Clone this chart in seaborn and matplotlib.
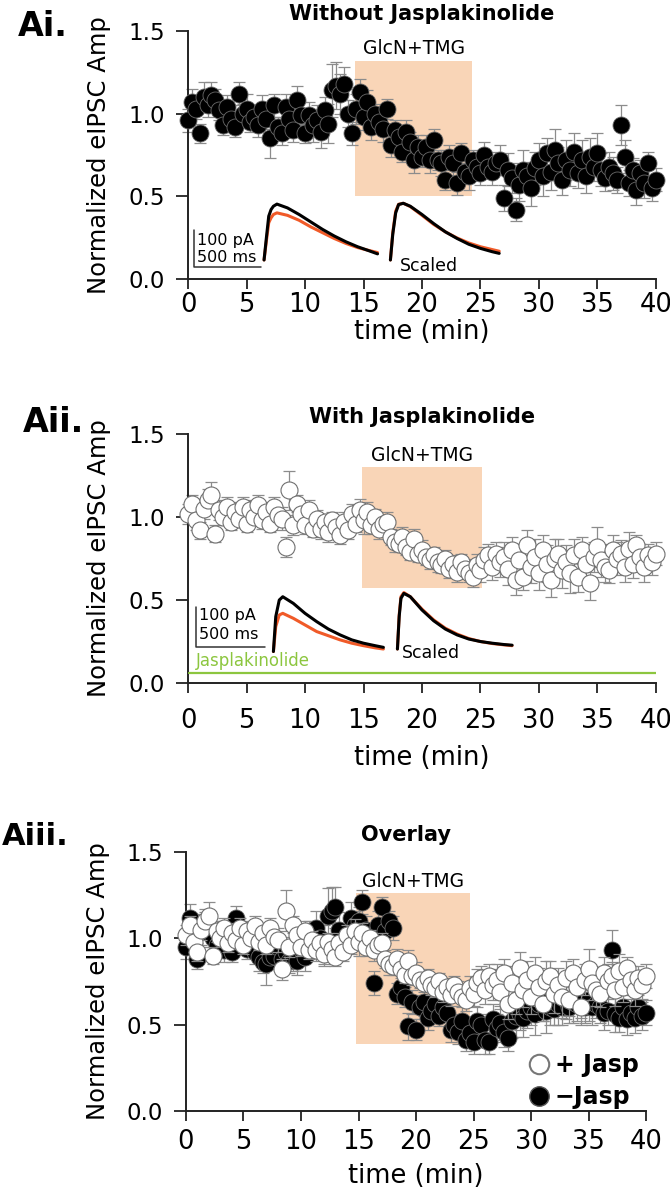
import numpy as np
import seaborn as sns
import matplotlib.pyplot as plt
from matplotlib.lines import Line2D

# sampling every 20 s, 0..40 min
time_min = np.arange(121) / 3

# panel Ai: without jasplakinolide (black)
amp_no_jasp = [
    0.96, 1.07, 1.03, 0.88, 1.10, 1.05, 1.11, 1.08, 1.02, 0.93, 1.04, 0.97,
    0.92, 1.12, 1.00, 1.03, 0.95, 0.98, 0.93, 1.03, 0.97, 0.85, 1.05, 0.92,
    0.88, 1.04, 0.97, 0.90, 1.08, 0.99, 0.88, 0.99, 0.93, 0.96, 0.89, 1.02,
    0.94, 1.14, 1.17, 1.12, 1.18, 1.00, 0.88, 1.03, 1.13, 0.98, 1.07, 0.92,
    1.00, 0.95, 0.91, 1.03, 0.81, 0.90, 0.86, 0.77, 0.89, 0.83, 0.72, 0.80,
    0.74, 0.80, 0.72, 0.84, 0.72, 0.70, 0.60, 0.74, 0.70, 0.58, 0.76, 0.65,
    0.62, 0.72, 0.68, 0.64, 0.75, 0.68, 0.65, 0.70, 0.72, 0.49, 0.66, 0.61,
    0.42, 0.57, 0.66, 0.62, 0.55, 0.67, 0.72, 0.62, 0.76, 0.65, 0.78, 0.70,
    0.60, 0.72, 0.66, 0.77, 0.64, 0.72, 0.62, 0.74, 0.68, 0.76, 0.66, 0.61,
    0.68, 0.64, 0.60, 0.93, 0.74, 0.58, 0.66, 0.54, 0.64, 0.58, 0.70, 0.55,
    0.60]
sem_no_jasp = [
    0.07, 0.08, 0.06, 0.06, 0.09, 0.07, 0.08, 0.07, 0.06, 0.06, 0.07, 0.08,
    0.06, 0.07, 0.06, 0.09, 0.06, 0.07, 0.07, 0.08, 0.06, 0.12, 0.07, 0.06,
    0.07, 0.08, 0.06, 0.07, 0.09, 0.08, 0.06, 0.08, 0.10, 0.09, 0.10, 0.08,
    0.12, 0.16, 0.14, 0.12, 0.10, 0.08, 0.07, 0.09, 0.08, 0.08, 0.07, 0.08,
    0.06, 0.07, 0.08, 0.06, 0.07, 0.06, 0.07, 0.06, 0.07, 0.06, 0.08, 0.07,
    0.06, 0.07, 0.08, 0.07, 0.06, 0.08, 0.06, 0.07, 0.08, 0.07, 0.06, 0.07,
    0.08, 0.06, 0.07, 0.07, 0.08, 0.06, 0.08, 0.07, 0.09, 0.08, 0.10, 0.09,
    0.07, 0.10, 0.12, 0.09, 0.11, 0.10, 0.10, 0.12, 0.09, 0.11, 0.13, 0.10,
    0.09, 0.12, 0.10, 0.11, 0.09, 0.12, 0.10, 0.11, 0.09, 0.12, 0.10, 0.08,
    0.09, 0.10, 0.08, 0.12, 0.10, 0.08, 0.07, 0.09, 0.08, 0.09, 0.07, 0.08,
    0.07]

# panel Aii: with jasplakinolide (white)
amp_jasp = [
    1.02, 1.08, 0.98, 0.92, 1.05, 1.10, 1.13, 0.90, 1.04, 1.00, 1.06, 0.97,
    1.03, 0.99, 1.06, 0.96, 1.04, 1.00, 1.07, 0.98, 1.03, 0.96, 1.06, 1.01,
    0.99, 0.82, 1.16, 0.95, 1.08, 1.02, 0.95, 1.04, 0.93, 0.99, 0.93, 0.97,
    0.91, 0.98, 0.94, 0.89, 0.97, 0.92, 1.02, 0.96, 1.04, 0.98, 1.03, 0.95,
    1.00, 0.93, 0.96, 0.97, 0.88, 0.85, 0.84, 0.88, 0.82, 0.79, 0.87, 0.78,
    0.80, 0.76, 0.74, 0.77, 0.73, 0.71, 0.75, 0.69, 0.72, 0.67, 0.73, 0.69,
    0.66, 0.64, 0.71, 0.68, 0.74, 0.77, 0.70, 0.78, 0.73, 0.76, 0.69, 0.80,
    0.62, 0.74, 0.64, 0.83, 0.70, 0.76, 0.66, 0.80, 0.72, 0.62, 0.75, 0.78,
    0.68, 0.73, 0.66, 0.77, 0.64, 0.80, 0.72, 0.60, 0.76, 0.82, 0.74, 0.70,
    0.68, 0.80, 0.75, 0.78, 0.70, 0.81, 0.72, 0.83, 0.76, 0.70, 0.77, 0.73,
    0.78]
sem_jasp = [
    0.06, 0.05, 0.06, 0.05, 0.06, 0.07, 0.08, 0.05, 0.06, 0.05, 0.06, 0.05,
    0.06, 0.05, 0.06, 0.05, 0.06, 0.05, 0.06, 0.05, 0.06, 0.05, 0.06, 0.05,
    0.07, 0.06, 0.12, 0.06, 0.05, 0.06, 0.05, 0.06, 0.05, 0.05, 0.06, 0.05,
    0.06, 0.05, 0.06, 0.05, 0.06, 0.05, 0.06, 0.05, 0.07, 0.08, 0.06, 0.05,
    0.05, 0.06, 0.05, 0.06, 0.05, 0.06, 0.05, 0.06, 0.05, 0.05, 0.06, 0.05,
    0.06, 0.05, 0.05, 0.05, 0.06, 0.05, 0.05, 0.06, 0.05, 0.06, 0.05, 0.06,
    0.05, 0.06, 0.07, 0.07, 0.08, 0.07, 0.08, 0.07, 0.09, 0.09, 0.10, 0.08,
    0.09, 0.10, 0.08, 0.09, 0.10, 0.11, 0.10, 0.09, 0.11, 0.10, 0.12, 0.09,
    0.11, 0.10, 0.12, 0.10, 0.09, 0.08, 0.11, 0.10, 0.09, 0.12, 0.10, 0.09,
    0.08, 0.09, 0.10, 0.08, 0.09, 0.10, 0.09, 0.06, 0.08, 0.09, 0.07, 0.08,
    0.07]

# panel Aiii: overlay, black series as plotted there
amp_no_jasp_overlay = [
    0.95, 1.12, 1.02, 0.88, 1.05, 1.08, 1.03, 1.00, 0.96, 1.04, 0.93, 1.00,
    0.92, 1.12, 0.98, 1.00, 0.94, 0.97, 0.92, 0.89, 0.86, 0.85, 0.89, 0.90,
    0.95, 0.88, 0.92, 0.87, 0.90, 0.87, 0.94, 0.89, 1.00, 0.98, 1.06, 1.00,
    0.96, 1.13, 1.16, 1.18, 1.05, 0.97, 1.00, 1.12, 1.08, 1.10, 1.21, 1.05,
    1.02, 0.74, 1.08, 1.18, 1.04, 1.10, 1.06, 0.68, 0.72, 0.66, 0.49, 0.63,
    0.47, 0.60, 0.63, 0.54, 0.58, 0.62, 0.55, 0.60, 0.57, 0.47, 0.50, 0.46,
    0.52, 0.41, 0.45, 0.40, 0.52, 0.50, 0.41, 0.40, 0.53, 0.48, 0.51, 0.46,
    0.42, 0.52, 0.55, 0.56, 0.54, 0.58, 0.60, 0.56, 0.62, 0.63, 0.58, 0.60,
    0.59, 0.62, 0.60, 0.64, 0.60, 0.63, 0.62, 0.65, 0.60, 0.64, 0.60, 0.62,
    0.60, 0.57, 0.58, 0.93, 0.56, 0.54, 0.60, 0.53, 0.57, 0.54, 0.60, 0.55,
    0.57]

# drug application windows (min) and box heights as drawn
drug_window = {"Ai": (14.3, 24.3, 0.50, 1.32),
               "Aii": (14.9, 25.1, 0.574, 1.30),
               "Aiii": (14.8, 24.7, 0.39, 1.26)}

# example eIPSC traces drawn inside the panels (min, normalized units)
trace_ai_t = [6.5, 6.7, 6.9, 7.1, 7.3, 7.6, 8.5, 9.5, 10.5, 11.5, 12.5, 13.5, 14.5, 15.5, 16.2]
trace_ai_ctrl = [0.115, 0.25, 0.38, 0.42, 0.44, 0.453, 0.43, 0.39, 0.345, 0.30, 0.26, 0.225, 0.195, 0.17, 0.152]
trace_ai_drug = [0.115, 0.23, 0.34, 0.37, 0.39, 0.40, 0.385, 0.355, 0.315, 0.28, 0.245, 0.215, 0.19, 0.172, 0.16]
trace_ai_sc_t = [17.3, 17.5, 17.75, 18.0, 18.4, 19.0, 20.0, 21.0, 22.0, 23.0, 24.0, 25.0, 26.0, 26.6]
trace_ai_sc_ctrl = [0.115, 0.27, 0.40, 0.45, 0.458, 0.44, 0.39, 0.335, 0.285, 0.245, 0.21, 0.185, 0.165, 0.155]
trace_ai_sc_drug = [0.115, 0.28, 0.41, 0.452, 0.458, 0.438, 0.385, 0.33, 0.285, 0.248, 0.218, 0.195, 0.178, 0.168]

trace_aii_t = [7.3, 7.5, 7.8, 8.1, 9.0, 10.0, 11.0, 12.0, 13.0, 14.0, 15.0, 16.0, 16.7]
trace_aii_ctrl = [0.19, 0.40, 0.50, 0.52, 0.48, 0.42, 0.37, 0.325, 0.29, 0.26, 0.24, 0.225, 0.215]
trace_aii_drug = [0.19, 0.34, 0.41, 0.42, 0.39, 0.35, 0.31, 0.285, 0.26, 0.24, 0.225, 0.212, 0.205]
trace_aii_sc_t = [17.9, 18.05, 18.2, 18.45, 19.0, 20.0, 21.0, 22.0, 23.0, 24.0, 25.0, 26.0, 27.0, 27.7]
trace_aii_sc_ctrl = [0.205, 0.40, 0.51, 0.54, 0.52, 0.44, 0.375, 0.325, 0.29, 0.265, 0.25, 0.24, 0.232, 0.228]
trace_aii_sc_drug = [0.205, 0.41, 0.52, 0.545, 0.52, 0.445, 0.38, 0.33, 0.295, 0.268, 0.25, 0.238, 0.23, 0.225]

jasp_bar_level = 0.062

PEACH = "#f9d5b7"
ERR = "#8c8c8c"
ORANGE = "#f05a28"
GREEN = "#8cc63f"

sns.set_style("ticks")
plt.rcParams["font.family"] = ["DejaVu Sans"]
plt.rcParams["text.color"] = "black"
plt.rcParams["axes.labelcolor"] = "black"
plt.rcParams["xtick.color"] = "black"
plt.rcParams["ytick.color"] = "black"

fig = plt.figure(figsize=(6.7, 12), dpi=100)
ax1 = fig.add_axes([0.2806, 0.7675, 0.6985, 0.2067])
ax2 = fig.add_axes([0.2806, 0.4308, 0.6985, 0.2075])
ax3 = fig.add_axes([0.2776, 0.0742, 0.6866, 0.2158])


def style_axis(ax, xpad):
    ax.set_xlim(0, 40)
    ax.set_ylim(0, 1.5)
    ax.set_xticks(range(0, 41, 5))
    ax.set_yticks([0, 0.5, 1.0, 1.5])
    ax.set_yticklabels(["0.0", "0.5", "1.0", "1.5"])
    sns.despine(ax=ax)
    for s in ["left", "bottom"]:
        ax.spines[s].set_linewidth(1.4)
        ax.spines[s].set_color("#222222")
    ax.tick_params(axis="y", direction="out", length=8.5, width=1.3,
                   labelsize=16.5, pad=8, colors="#222222", labelcolor="black")
    ax.tick_params(axis="x", direction="out", length=7, width=1.3,
                   labelsize=18.5, pad=xpad, colors="#222222", labelcolor="black")
    ax.set_ylabel("Normalized eIPSC Amp", fontsize=17.5)
    ax.set_xlabel("time (min)", fontsize=18.5)
    ax.yaxis.set_label_coords(-0.165, 0.5)
    ax.patch.set_alpha(0)


def drug_box(ax, key):
    x0, x1, y0, y1 = drug_window[key]
    ax.fill_between([x0, x1], y0, y1, color=PEACH, lw=0, zorder=0)
    ax.text((x0 + x1) / 2, y1 + 0.015, "GlcN+TMG", ha="center", va="bottom",
            fontsize=13.5)


def points(ax, y, err, filled, z):
    ax.errorbar(time_min, y, yerr=err, fmt="none", ecolor=ERR, elinewidth=0.9,
                capsize=4.5, capthick=0.9, zorder=z, clip_on=False)
    if filled:
        sns.scatterplot(x=time_min, y=y, ax=ax, s=150, color="black",
                        edgecolor="#6a6a6a", linewidth=0.6, zorder=z + 1,
                        clip_on=False, legend=False)
    else:
        sns.scatterplot(x=time_min, y=y, ax=ax, s=150, color="white",
                        edgecolor="#6f6f6f", linewidth=0.8, zorder=z + 1,
                        clip_on=False, legend=False)


def traces(ax, t, ctrl, drug, zorder=6):
    sns.lineplot(x=t, y=drug, ax=ax, color=ORANGE, lw=2.2, sort=False, zorder=zorder)
    sns.lineplot(x=t, y=ctrl, ax=ax, color="black", lw=2.2, sort=False, zorder=zorder + 1)


def scale_bar(ax, x0, x1, y0, y1, ytxt1, ytxt2):
    ax.plot([x0, x0, x1], [y1, y0, y0], color="#333333", lw=1.1, zorder=6)
    ax.text(x0 + 0.3, ytxt1, "100 pA", fontsize=11.5, va="center", ha="left")
    ax.text(x0 + 0.3, ytxt2, "500 ms", fontsize=11.5, va="center", ha="left")


# ---- Ai ----
drug_box(ax1, "Ai")
points(ax1, amp_no_jasp, sem_no_jasp, True, 2)
traces(ax1, trace_ai_t, trace_ai_ctrl, trace_ai_drug)
traces(ax1, trace_ai_sc_t, trace_ai_sc_ctrl, trace_ai_sc_drug)
scale_bar(ax1, 0.5, 6.2, 0.072, 0.296, 0.235, 0.127)
ax1.text(18.1, 0.078, "Scaled", fontsize=12.5, va="center", ha="left")
style_axis(ax1, 2)
ax1.xaxis.set_label_coords(0.5, -0.162)
ax1.text(0.5, 1.07, "Without Jasplakinolide", transform=ax1.transAxes,
         ha="center", va="center", fontsize=15, fontweight="bold")

# ---- Aii ----
drug_box(ax2, "Aii")
points(ax2, amp_jasp, sem_jasp, False, 2)
traces(ax2, trace_aii_t, trace_aii_ctrl, trace_aii_drug)
traces(ax2, trace_aii_sc_t, trace_aii_sc_ctrl, trace_aii_sc_drug)
scale_bar(ax2, 0.68, 6.6, 0.217, 0.46, 0.405, 0.29)
ax2.text(18.3, 0.18, "Scaled", fontsize=12.5, va="center", ha="left")
ax2.text(0.7, 0.135, "Jasplakinolide", color=GREEN, fontsize=12, va="center", ha="left")
ax2.plot([0.1, 40.1], [jasp_bar_level, jasp_bar_level], color=GREEN, lw=1.6, zorder=5)
style_axis(ax2, 11)
ax2.xaxis.set_label_coords(0.5, -0.25)
ax2.text(0.5, 1.068, "With Jasplakinolide", transform=ax2.transAxes,
         ha="center", va="center", fontsize=15, fontweight="bold")

# ---- Aiii ----
drug_box(ax3, "Aiii")
points(ax3, amp_no_jasp_overlay, sem_no_jasp, True, 2)
points(ax3, amp_jasp, sem_jasp, False, 4)
style_axis(ax3, 6)
ax3.xaxis.set_label_coords(0.5, -0.2)
ax3.text(0.478, 1.066, "Overlay", transform=ax3.transAxes,
         ha="center", va="center", fontsize=15, fontweight="bold")
handles = [Line2D([], [], ls="", marker="o", ms=14, mfc="white", mec="#777777", mew=1.5),
           Line2D([], [], ls="", marker="o", ms=14, mfc="black", mec="#555555", mew=1.0)]
ax3.legend(handles, ["+ Jasp", "\u2212Jasp"], loc="lower right", bbox_to_anchor=(1.03, -0.075),
           frameon=False, handletextpad=0.15, labelspacing=0.35, handlelength=1.0,
           prop={"weight": "bold", "size": 17})

# panel letters
fig.text(0.027, 0.978, "Ai.", fontsize=24, fontweight="bold", va="center", ha="left")
fig.text(0.034, 0.648, "Aii.", fontsize=24, fontweight="bold", va="center", ha="left")
fig.text(0.003, 0.303, "Aiii.", fontsize=22, fontweight="bold", va="center", ha="left")

fig.savefig("out.png", dpi=100)
